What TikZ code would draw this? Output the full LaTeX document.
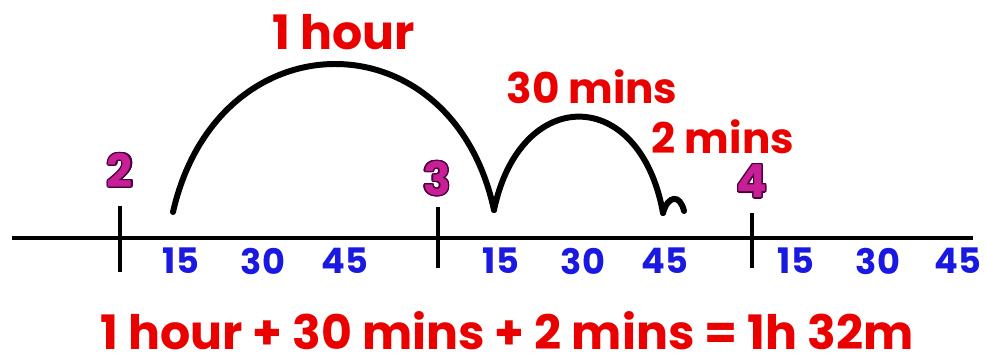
\documentclass[tikz,border=0pt]{standalone}
\usepackage{fontspec}
\setmainfont{Poppins}
\usepackage{contour}
\usetikzlibrary{positioning}
\usepackage{xcolor}

\definecolor{hourred}{RGB}{235,0,0}
\definecolor{minblue}{RGB}{25,25,225}
\definecolor{hourpink}{RGB}{200,30,150}
\definecolor{hourrim}{RGB}{70,0,60}
\contourlength{0.7pt}

\begin{document}
\begin{tikzpicture}[
    x=0.02cm, y=-0.02cm,
    jumplabel/.style={font=\fontsize{24}{28}\selectfont\bfseries, text=hourred, inner sep=0pt},
    totallabel/.style={jumplabel, font=\fontsize{27}{32}\selectfont\bfseries},
    minlabel/.style={font=\fontsize{20}{24}\selectfont\bfseries, text=minblue, inner sep=0pt},
    hourlabel/.style={font=\fontsize{26}{30}\selectfont\bfseries, text=hourpink, inner sep=0pt},
    timeline/.style={line width=2.8pt},
    jump/.style={line width=3.4pt, line cap=round}
]
\useasboundingbox (0,0) rectangle (987,356);

% number line with hour ticks
\coordinate (lstart) at (12,238);
\coordinate (lend) at (973,238);
\draw[timeline] (lstart) -- (lend);
\draw[timeline] (120,206) -- (120,272);
\draw[timeline] (438,207) -- (438,268);
\draw[timeline] (752,213) -- (752,268);

\node[hourlabel] (h2) at (120,171) {\contour{hourrim}{2}};
\node[hourlabel] (h3) at (437,179) {\contour{hourrim}{3}};
\node[hourlabel] (h4) at (752,182) {\contour{hourrim}{4}};

\node[minlabel] (m1) at (181,261) {15};
\node[minlabel] (m2) at (263,261) {30};
\node[minlabel] (m3) at (345,261) {45};
\node[minlabel] (m4) at (501,261) {15};
\node[minlabel] (m5) at (583,261) {30};
\node[minlabel] (m6) at (665,261) {45};
\node[minlabel] (m7) at (796,261) {15};
\node[minlabel] (m8) at (878,261) {30};
\node[minlabel] (m9) at (958,261) {45};

% jumps along the line
\coordinate (j0) at (173,212);
\coordinate (j1) at (494,210);
\coordinate (j2) at (663,213);
\coordinate (j3) at (684,211);
\draw[jump] (j0) .. controls (218,15) and (452,15) .. (j1);
\draw[jump] (j1) .. controls (520,85) and (640,85) .. (j2);
\draw[jump] (j2) .. controls (668,195) and (680,194) .. (j3);

\node[totallabel] (l1) at (344,32) {1 hour};
\node[jumplabel] (l2) at (592,87) {30 mins};
\node[jumplabel] (l3) at (723,137) {2 mins};

\node[totallabel, text depth=0pt] (sum) at (507,330) {1 hour + 30 mins + 2 mins = 1h 32m};
\end{tikzpicture}
\end{document}
